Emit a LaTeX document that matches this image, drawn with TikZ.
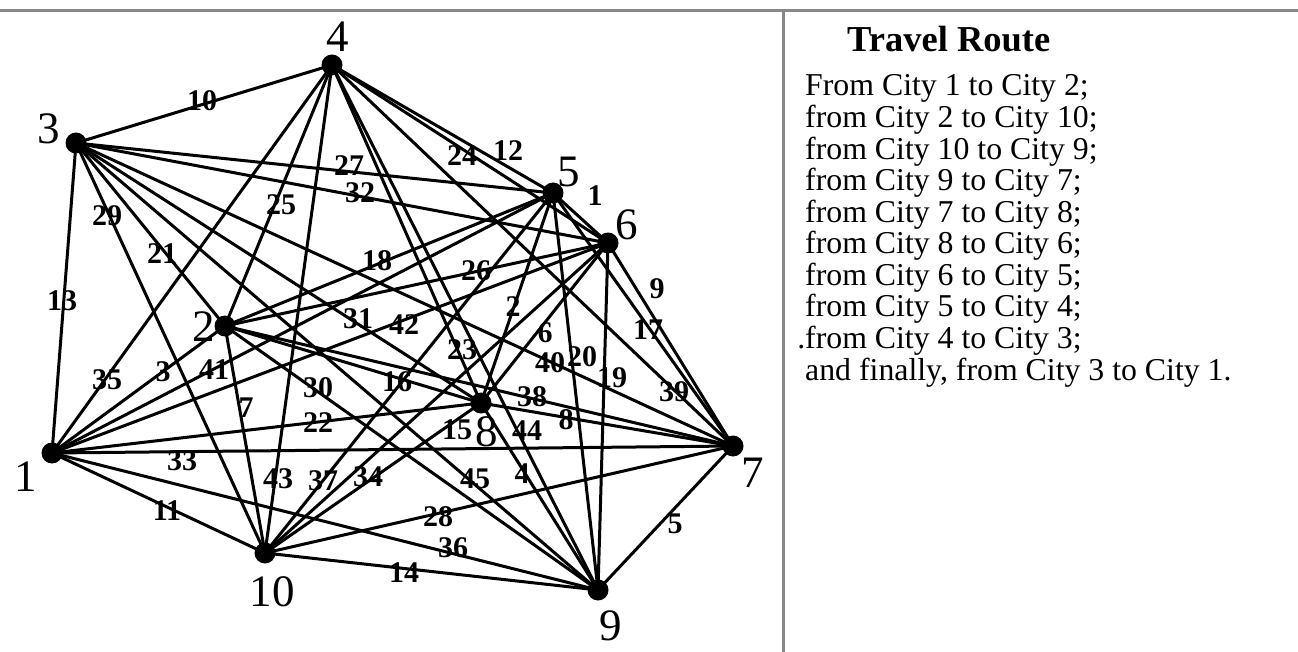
\documentclass[tikz,border=0pt]{standalone}
\usepackage{fontspec}
\setmainfont{Liberation Serif}
\definecolor{framegray}{RGB}{136,136,136}
\pgfdeclarelayer{background}
\pgfsetlayers{background,main}
\tikzset{
  city/.style={circle,fill=black,inner sep=0pt,minimum size=21pt},
  citylabel/.style={inner sep=0pt,font=\fontsize{45}{45}\selectfont},
  weight/.style={inner sep=0pt,font=\bfseries\fontsize{30}{30}\selectfont},
  road/.style={line width=3pt,black},
  frameline/.style={draw=framegray,line width=2.7pt},
  routeline/.style={anchor=base west,inner sep=0pt,font=\fontsize{31.8}{31.8}\selectfont},
  routetitle/.style={anchor=base west,inner sep=0pt,font=\bfseries\fontsize{36.5}{36.5}\selectfont},
}
\begin{document}
\begin{tikzpicture}[x=1pt,y=-1pt]
\useasboundingbox (0,0) rectangle (1298,652);
% frame
\coordinate (tl) at (0,10.5);
\coordinate (tr) at (1298,10.5);
\coordinate (vt) at (783.5,10.5);
\coordinate (vb) at (783.5,652);
\draw[frameline] (tl) -- (tr);
\draw[frameline] (vt) -- (vb);
% cities
\node[city] (c1) at (52,453) {};
\node[city] (c2) at (225,326) {};
\node[city] (c3) at (76,143) {};
\node[city] (c4) at (332,65) {};
\node[city] (c5) at (553,193) {};
\node[city] (c6) at (608,243) {};
\node[city] (c7) at (733,446) {};
\node[city] (c8) at (481,403) {};
\node[city] (c9) at (598,590) {};
\node[city] (c10) at (265,553) {};
% roads (complete graph)
\begin{pgfonlayer}{background}
\foreach \a/\b in {1/2,1/3,1/4,1/5,1/6,1/7,1/8,1/9,1/10,
                   2/3,2/4,2/5,2/6,2/7,2/8,2/9,2/10,
                   3/4,3/5,3/6,3/7,3/8,3/9,3/10,
                   4/5,4/6,4/7,4/8,4/9,4/10,
                   5/6,5/7,5/8,5/9,5/10,
                   6/7,6/8,6/9,6/10,
                   7/8,7/9,7/10,
                   8/9,8/10,
                   9/10}
  \draw[road] (c\a.center) -- (c\b.center);
\end{pgfonlayer}
% city labels
\node[citylabel] (n1) at (26,477) {1};
\node[citylabel] (n2) at (204,327) {2};
\node[citylabel] (n3) at (49,129) {3};
\node[citylabel] (n4) at (338,37) {4};
\node[citylabel] (n5) at (569,172) {5};
\node[citylabel] (n6) at (627,225) {6};
\node[citylabel] (n7) at (753,473) {7};
\node[citylabel] (n8) at (487,432) {8};
\node[citylabel] (n9) at (611,626) {9};
\node[citylabel] (n10) at (272,592) {10};
% weights
\node[weight] (w10) at (202,101) {10};
\node[weight] (w27) at (349,166) {27};
\node[weight] (w32) at (360,193) {32};
\node[weight] (w25) at (281,205) {25};
\node[weight] (w24) at (462,156) {24};
\node[weight] (w12) at (508,151) {12};
\node[weight] (w1) at (595,196) {1};
\node[weight] (w29) at (107,216) {29};
\node[weight] (w21) at (162,254) {21};
\node[weight] (w13) at (62,301) {13};
\node[weight] (w18) at (377,261) {18};
\node[weight] (w26) at (476,271) {26};
\node[weight] (w31) at (358,319) {31};
\node[weight] (w42) at (404,325) {42};
\node[weight] (w2) at (513,307) {2};
\node[weight] (w6) at (545,333) {6};
\node[weight] (w9) at (657,289) {9};
\node[weight] (w17) at (648,330) {17};
\node[weight] (w35) at (107,380) {35};
\node[weight] (w3) at (163,372) {3};
\node[weight] (w41) at (214,370) {41};
\node[weight] (w7) at (246,408) {7};
\node[weight] (w30) at (318,388) {30};
\node[weight] (w16) at (397,382) {16};
\node[weight] (w23) at (462,350) {23};
\node[weight] (w22) at (318,423) {22};
\node[weight] (w15) at (457,430) {15};
\node[weight] (w40) at (550,363) {40};
\node[weight] (w20) at (582,357) {20};
\node[weight] (w19) at (612,378) {19};
\node[weight] (w39) at (674,392) {39};
\node[weight] (w38) at (532,397) {38};
\node[weight] (w8) at (566,420) {8};
\node[weight] (w44) at (527,431) {44};
\node[weight] (w33) at (182,461) {33};
\node[weight] (w43) at (278,479) {43};
\node[weight] (w37) at (323,481) {37};
\node[weight] (w34) at (368,477) {34};
\node[weight] (w45) at (475,479) {45};
\node[weight] (w4) at (522,474) {4};
\node[weight] (w11) at (167,511) {11};
\node[weight] (w28) at (438,517) {28};
\node[weight] (w36) at (453,548) {36};
\node[weight] (w14) at (404,573) {14};
\node[weight] (w5) at (675,524) {5};
% route panel
\node[routetitle] (title) at (847,52) {Travel Route};
\node[routeline] (l1) at (805,96.0) {From City 1 to City 2;};
\node[routeline] (l2) at (805,127.6) {from City 2 to City 10;};
\node[routeline] (l3) at (805,159.1) {from City 10 to City 9;};
\node[routeline] (l4) at (805,190.7) {from City 9 to City 7;};
\node[routeline] (l5) at (805,222.2) {from City 7 to City 8;};
\node[routeline] (l6) at (805,253.8) {from City 8 to City 6;};
\node[routeline] (l7) at (805,285.4) {from City 6 to City 5;};
\node[routeline] (l8) at (805,316.9) {from City 5 to City 4;};
\node[routeline] (l9) at (805,348.5) {\llap{.}from City 4 to City 3;};
\node[routeline] (l10) at (805,380.0) {and finally, from City 3 to City 1.};
\end{tikzpicture}
\end{document}
